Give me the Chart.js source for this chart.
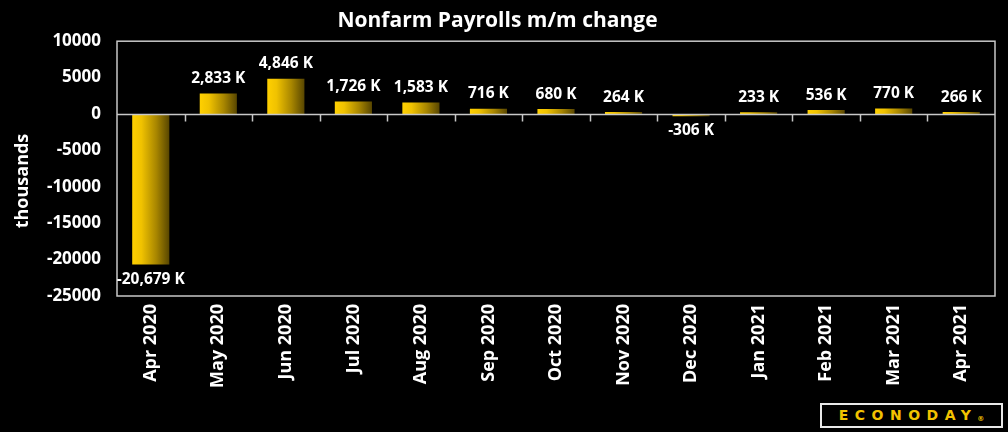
<!DOCTYPE html>
<html>
<head>
<meta charset="utf-8">
<script src="https://cdn.jsdelivr.net/npm/chart.js@4/dist/chart.umd.min.js"></script>
<style>
html,body{margin:0;padding:0;background:#000;}
#wrap{position:relative;width:1008px;height:432px;background:#000;}
#logo{position:absolute;left:820px;top:403px;width:183px;height:25px;box-sizing:border-box;border:2px solid #e8e8e8;background:#000;color:#f2c200;font:bold 14px "DejaVu Sans",sans-serif;letter-spacing:6.5px;line-height:21px;text-align:center;white-space:nowrap;overflow:hidden;}
#logo sup{font-size:7px;letter-spacing:0;vertical-align:-1px;}
</style>
</head>
<body>
<div id="wrap">
<canvas id="c" width="1008" height="432"></canvas>
<div id="logo">ECONODAY<sup>®</sup></div>
</div>
<script>
const categories = ["Apr 2020","May 2020","Jun 2020","Jul 2020","Aug 2020","Sep 2020","Oct 2020","Nov 2020","Dec 2020","Jan 2021","Feb 2021","Mar 2021","Apr 2021"];
const payrollChange = [-20679, 2833, 4846, 1726, 1583, 716, 680, 264, -306, 233, 536, 770, 266];
const yTicks = [10000, 5000, 0, -5000, -10000, -15000, -20000, -25000];
const chartTitle = "Nonfarm Payrolls m/m change";
const yAxisTitle = "thousands";

const FONT = "'Open Sans', 'DejaVu Sans', sans-serif";
const BAR_PCT = 0.55;

function fmt(v){
  const s = Math.abs(v).toLocaleString('en-US');
  return (v < 0 ? '-' : '') + s + ' K';
}

const framePlugin = {
  id: 'frame',
  afterDatasetsDraw(chart){
    const {ctx, chartArea:a, scales:{x, y}} = chart;
    ctx.save();
    ctx.strokeStyle = '#c8c8c8';
    ctx.lineWidth = 1.5;
    ctx.strokeRect(a.left, a.top, a.right - a.left, a.bottom - a.top);
    const y0 = Math.round(y.getPixelForValue(0)) + 0.5;
    ctx.beginPath();
    ctx.moveTo(a.left, y0); ctx.lineTo(a.right, y0);
    const n = categories.length;
    const w = (a.right - a.left) / n;
    for (let i = 1; i < n; i++){
      const xx = Math.round(a.left + i * w) + 0.5;
      ctx.moveTo(xx, y0); ctx.lineTo(xx, y0 + 7);
    }
    ctx.stroke();
    // data labels
    const meta = chart.getDatasetMeta(0);
    ctx.fillStyle = '#ffffff';
    ctx.font = "bold 15.5px " + FONT;
    ctx.textAlign = 'center';
    meta.data.forEach((bar, i) => {
      const v = payrollChange[i];
      if (v >= 0){
        ctx.textBaseline = 'bottom';
        ctx.fillText(fmt(v), bar.x, bar.y - 7);
      } else {
        ctx.textBaseline = 'top';
        ctx.fillText(fmt(v), bar.x, bar.y + 7);
      }
    });
    // y axis title
    ctx.translate(23, 181);
    ctx.rotate(-Math.PI / 2);
    ctx.font = "bold 18px " + FONT;
    ctx.textAlign = 'center';
    ctx.textBaseline = 'middle';
    ctx.fillText(yAxisTitle, 0, 0);
    ctx.restore();
  }
};

new Chart(document.getElementById('c'), {
  type: 'bar',
  data: {
    labels: categories,
    datasets: [{
      data: payrollChange,
      borderWidth: 0,
      categoryPercentage: 1,
      barPercentage: BAR_PCT,
      backgroundColor(ctx){
        const chart = ctx.chart;
        const a = chart.chartArea;
        const xs = chart.scales && chart.scales.x;
        if (!a || !xs || ctx.dataIndex === undefined) return '#f2c400';
        const cx = xs.getPixelForValue(ctx.dataIndex);
        const half = (a.right - a.left) / categories.length * BAR_PCT / 2;
        const g = chart.ctx.createLinearGradient(cx - half, 0, cx + half, 0);
        g.addColorStop(0, '#ffd000');
        g.addColorStop(0.25, '#f0c200');
        g.addColorStop(0.65, '#a88600');
        g.addColorStop(1, '#584600');
        return g;
      }
    }]
  },
  options: {
    responsive: false,
    animation: false,
    devicePixelRatio: 1,
    layout: { padding: { left: 0, right: 13, top: 0, bottom: 0 } },
    plugins: {
      legend: { display: false },
      tooltip: { enabled: false },
      title: {
        display: true,
        text: chartTitle,
        color: '#ffffff',
        font: { family: FONT, size: 21, weight: 'bold', lineHeight: 1.2 },
        padding: { top: 8, bottom: 8 }
      }
    },
    scales: {
      x: {
        grid: { display: false, drawTicks: false },
        border: { display: false },
        ticks: {
          color: '#ffffff',
          font: { family: FONT, size: 18, weight: 'bold' },
          minRotation: 90, maxRotation: 90,
          padding: 8,
          autoSkip: false
        },
        afterFit(s){ s.height = 136; }
      },
      y: {
        min: -25000, max: 10000,
        grid: { display: false, drawTicks: false },
        border: { display: false },
        afterBuildTicks(s){ s.ticks = yTicks.map(v => ({value: v})); },
        ticks: {
          color: '#ffffff',
          font: { family: FONT, size: 17, weight: 'bold' },
          padding: 16,
          callback: v => String(v)
        },
        afterFit(s){ s.width = 117; }
      }
    }
  },
  plugins: [framePlugin]
});
</script>
</body>
</html>
